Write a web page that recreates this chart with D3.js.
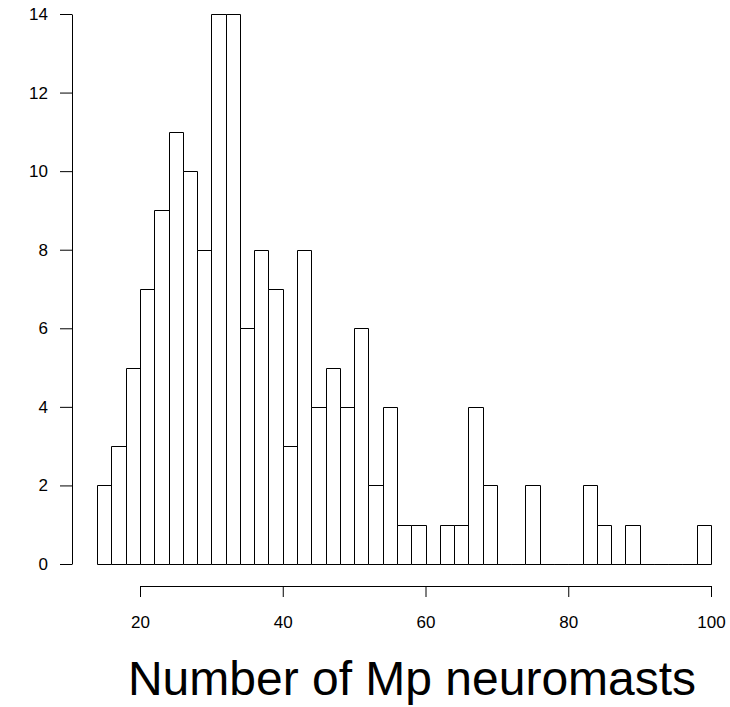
<!DOCTYPE html>
<html>
<head>
<meta charset="utf-8">
<script src="https://cdn.jsdelivr.net/npm/d3@7"></script>
<style>
  body { margin: 0; background: #fff; }
  svg text { font-family: "Liberation Sans", Arial, Helvetica, sans-serif; }
</style>
</head>
<body>
<svg id="chart" width="730" height="707"></svg>
<script>
// histogram data, bins of width 2
var binStarts = [14, 16, 18, 20, 22, 24, 26, 28, 30, 32, 34, 36, 38, 40, 42, 44, 46, 48, 50, 52,
                 54, 56, 58, 60, 62, 64, 66, 68, 70, 72, 74, 76, 78, 80, 82, 84, 86, 88, 90, 92,
                 94, 96, 98]
var counts    = [2, 3, 5, 7, 9, 11, 10, 8, 14, 14, 6, 8, 7, 3, 8, 4, 5, 4, 6, 2,
                 4, 1, 1, 0, 1, 1, 4, 2, 0, 0, 2, 0, 0, 0, 2, 1, 0, 1, 0, 0,
                 0, 0, 1]
var binWidth = 2
var xTicks = [20, 40, 60, 80, 100]
var yTicks = [0, 2, 4, 6, 8, 10, 12, 14]
var xLabel = 'Number of Mp neuromasts'

var svg = d3.select('#chart')

var x = d3.scaleLinear().domain([20, 100]).range([140, 711])
var y = d3.scaleLinear().domain([0, 14]).range([564, 14])

function px (v) { return Math.round(v) + 0.5 }

// bars as paths so empty bins still show a flat line along the bottom
svg.append('g').selectAll('path')
  .data(binStarts)
  .enter().append('path')
  .attr('d', function (d, i) {
    var x0 = px(x(d)), x1 = px(x(d + binWidth))
    var y0 = px(y(0)), y1 = px(y(counts[i]))
    return 'M' + x0 + ',' + y0 + 'V' + y1 + 'H' + x1 + 'V' + y0 + 'Z'
  })
  .attr('fill', '#fff')
  .attr('stroke', '#000')
  .attr('stroke-width', 1)

// y axis
var yAxis = svg.append('g')
  .attr('transform', 'translate(72,0)')
  .call(d3.axisLeft(y).tickValues(yTicks).tickSize(12).tickSizeOuter(0).tickPadding(12))
yAxis.selectAll('text').attr('font-size', 17).attr('fill', '#000')

// x axis
var xAxis = svg.append('g')
  .attr('transform', 'translate(0,586)')
  .call(d3.axisBottom(x).tickValues(xTicks).tickSize(11).tickSizeOuter(0).tickPadding(19))
xAxis.selectAll('text').attr('font-size', 17).attr('fill', '#000')

svg.selectAll('.domain, .tick line').attr('stroke', '#000')

// axis title
svg.append('text')
  .attr('x', 412)
  .attr('y', 695)
  .attr('text-anchor', 'middle')
  .attr('font-size', 48)
  .attr('fill', '#000')
  .text(xLabel)
</script>
</body>
</html>
